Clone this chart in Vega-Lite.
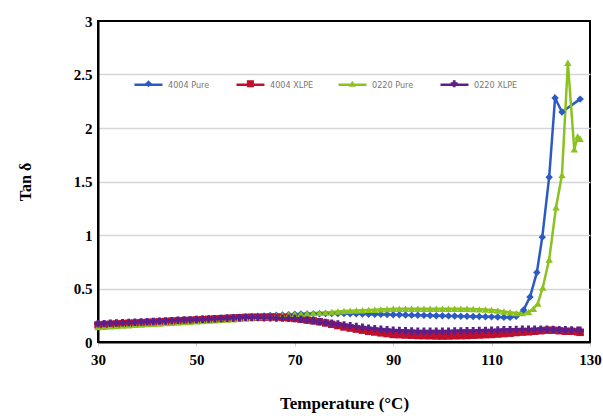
{
  "$schema": "https://vega.github.io/schema/vega-lite/v6.json",
  "width": 492,
  "height": 321,
  "autosize": "none",
  "padding": {"left": 98, "top": 21, "right": 13, "bottom": 74},
  "background": "white",
  "view": {"stroke": "#000000", "strokeWidth": 2},
  "config": {
    "view": {"stroke": "#000000", "strokeWidth": 2},
    "font": "Liberation Serif"
  },
  "data": {
    "values": [
      {"t": 30, "4004 Pure": 0.170, "4004 XLPE": 0.160, "0220 Pure": 0.140, "0220 XLPE": 0.170},
      {"t": 31.25, "4004 Pure": 0.172, "4004 XLPE": 0.163, "0220 Pure": 0.143, "0220 XLPE": 0.172},
      {"t": 32.5, "4004 Pure": 0.175, "4004 XLPE": 0.166, "0220 Pure": 0.147, "0220 XLPE": 0.175},
      {"t": 33.75, "4004 Pure": 0.177, "4004 XLPE": 0.169, "0220 Pure": 0.150, "0220 XLPE": 0.177},
      {"t": 35, "4004 Pure": 0.180, "4004 XLPE": 0.172, "0220 Pure": 0.153, "0220 XLPE": 0.180},
      {"t": 36.25, "4004 Pure": 0.182, "4004 XLPE": 0.175, "0220 Pure": 0.157, "0220 XLPE": 0.182},
      {"t": 37.5, "4004 Pure": 0.185, "4004 XLPE": 0.177, "0220 Pure": 0.160, "0220 XLPE": 0.185},
      {"t": 38.75, "4004 Pure": 0.187, "4004 XLPE": 0.180, "0220 Pure": 0.163, "0220 XLPE": 0.187},
      {"t": 40, "4004 Pure": 0.190, "4004 XLPE": 0.183, "0220 Pure": 0.167, "0220 XLPE": 0.190},
      {"t": 41.25, "4004 Pure": 0.192, "4004 XLPE": 0.186, "0220 Pure": 0.170, "0220 XLPE": 0.192},
      {"t": 42.5, "4004 Pure": 0.195, "4004 XLPE": 0.189, "0220 Pure": 0.173, "0220 XLPE": 0.195},
      {"t": 43.75, "4004 Pure": 0.197, "4004 XLPE": 0.192, "0220 Pure": 0.177, "0220 XLPE": 0.197},
      {"t": 45, "4004 Pure": 0.200, "4004 XLPE": 0.195, "0220 Pure": 0.180, "0220 XLPE": 0.200},
      {"t": 46.25, "4004 Pure": 0.203, "4004 XLPE": 0.198, "0220 Pure": 0.183, "0220 XLPE": 0.203},
      {"t": 47.5, "4004 Pure": 0.206, "4004 XLPE": 0.200, "0220 Pure": 0.187, "0220 XLPE": 0.205},
      {"t": 48.75, "4004 Pure": 0.209, "4004 XLPE": 0.203, "0220 Pure": 0.190, "0220 XLPE": 0.207},
      {"t": 50, "4004 Pure": 0.212, "4004 XLPE": 0.206, "0220 Pure": 0.193, "0220 XLPE": 0.210},
      {"t": 51.25, "4004 Pure": 0.215, "4004 XLPE": 0.209, "0220 Pure": 0.197, "0220 XLPE": 0.212},
      {"t": 52.5, "4004 Pure": 0.218, "4004 XLPE": 0.212, "0220 Pure": 0.200, "0220 XLPE": 0.215},
      {"t": 53.75, "4004 Pure": 0.220, "4004 XLPE": 0.215, "0220 Pure": 0.203, "0220 XLPE": 0.217},
      {"t": 55, "4004 Pure": 0.223, "4004 XLPE": 0.218, "0220 Pure": 0.207, "0220 XLPE": 0.220},
      {"t": 56.25, "4004 Pure": 0.226, "4004 XLPE": 0.221, "0220 Pure": 0.210, "0220 XLPE": 0.222},
      {"t": 57.5, "4004 Pure": 0.229, "4004 XLPE": 0.224, "0220 Pure": 0.213, "0220 XLPE": 0.225},
      {"t": 58.75, "4004 Pure": 0.232, "4004 XLPE": 0.227, "0220 Pure": 0.217, "0220 XLPE": 0.227},
      {"t": 60, "4004 Pure": 0.235, "4004 XLPE": 0.230, "0220 Pure": 0.220, "0220 XLPE": 0.230},
      {"t": 61.25, "4004 Pure": 0.238, "4004 XLPE": 0.231, "0220 Pure": 0.225, "0220 XLPE": 0.229},
      {"t": 62.5, "4004 Pure": 0.241, "4004 XLPE": 0.232, "0220 Pure": 0.230, "0220 XLPE": 0.228},
      {"t": 63.75, "4004 Pure": 0.244, "4004 XLPE": 0.233, "0220 Pure": 0.235, "0220 XLPE": 0.227},
      {"t": 65, "4004 Pure": 0.247, "4004 XLPE": 0.234, "0220 Pure": 0.240, "0220 XLPE": 0.226},
      {"t": 66.25, "4004 Pure": 0.250, "4004 XLPE": 0.234, "0220 Pure": 0.245, "0220 XLPE": 0.225},
      {"t": 67.5, "4004 Pure": 0.253, "4004 XLPE": 0.230, "0220 Pure": 0.250, "0220 XLPE": 0.223},
      {"t": 68.75, "4004 Pure": 0.256, "4004 XLPE": 0.226, "0220 Pure": 0.255, "0220 XLPE": 0.222},
      {"t": 70, "4004 Pure": 0.260, "4004 XLPE": 0.220, "0220 Pure": 0.260, "0220 XLPE": 0.220},
      {"t": 71.25, "4004 Pure": 0.261, "4004 XLPE": 0.213, "0220 Pure": 0.263, "0220 XLPE": 0.213},
      {"t": 72.5, "4004 Pure": 0.262, "4004 XLPE": 0.205, "0220 Pure": 0.267, "0220 XLPE": 0.205},
      {"t": 73.75, "4004 Pure": 0.263, "4004 XLPE": 0.198, "0220 Pure": 0.270, "0220 XLPE": 0.198},
      {"t": 75, "4004 Pure": 0.264, "4004 XLPE": 0.190, "0220 Pure": 0.273, "0220 XLPE": 0.190},
      {"t": 76.25, "4004 Pure": 0.265, "4004 XLPE": 0.178, "0220 Pure": 0.277, "0220 XLPE": 0.183},
      {"t": 77.5, "4004 Pure": 0.265, "4004 XLPE": 0.165, "0220 Pure": 0.280, "0220 XLPE": 0.175},
      {"t": 78.75, "4004 Pure": 0.265, "4004 XLPE": 0.153, "0220 Pure": 0.285, "0220 XLPE": 0.168},
      {"t": 80, "4004 Pure": 0.265, "4004 XLPE": 0.140, "0220 Pure": 0.290, "0220 XLPE": 0.160},
      {"t": 81.25, "4004 Pure": 0.264, "4004 XLPE": 0.130, "0220 Pure": 0.292, "0220 XLPE": 0.153},
      {"t": 82.5, "4004 Pure": 0.263, "4004 XLPE": 0.120, "0220 Pure": 0.295, "0220 XLPE": 0.145},
      {"t": 83.75, "4004 Pure": 0.262, "4004 XLPE": 0.110, "0220 Pure": 0.297, "0220 XLPE": 0.138},
      {"t": 85, "4004 Pure": 0.260, "4004 XLPE": 0.100, "0220 Pure": 0.300, "0220 XLPE": 0.130},
      {"t": 86.25, "4004 Pure": 0.259, "4004 XLPE": 0.093, "0220 Pure": 0.302, "0220 XLPE": 0.125},
      {"t": 87.5, "4004 Pure": 0.258, "4004 XLPE": 0.085, "0220 Pure": 0.305, "0220 XLPE": 0.120},
      {"t": 88.75, "4004 Pure": 0.256, "4004 XLPE": 0.078, "0220 Pure": 0.307, "0220 XLPE": 0.115},
      {"t": 90, "4004 Pure": 0.255, "4004 XLPE": 0.070, "0220 Pure": 0.310, "0220 XLPE": 0.110},
      {"t": 91.25, "4004 Pure": 0.254, "4004 XLPE": 0.068, "0220 Pure": 0.310, "0220 XLPE": 0.108},
      {"t": 92.5, "4004 Pure": 0.253, "4004 XLPE": 0.065, "0220 Pure": 0.310, "0220 XLPE": 0.105},
      {"t": 93.75, "4004 Pure": 0.251, "4004 XLPE": 0.063, "0220 Pure": 0.310, "0220 XLPE": 0.103},
      {"t": 95, "4004 Pure": 0.250, "4004 XLPE": 0.060, "0220 Pure": 0.310, "0220 XLPE": 0.100},
      {"t": 96.25, "4004 Pure": 0.249, "4004 XLPE": 0.059, "0220 Pure": 0.310, "0220 XLPE": 0.100},
      {"t": 97.5, "4004 Pure": 0.248, "4004 XLPE": 0.058, "0220 Pure": 0.310, "0220 XLPE": 0.100},
      {"t": 98.75, "4004 Pure": 0.246, "4004 XLPE": 0.056, "0220 Pure": 0.310, "0220 XLPE": 0.100},
      {"t": 100, "4004 Pure": 0.245, "4004 XLPE": 0.055, "0220 Pure": 0.310, "0220 XLPE": 0.100},
      {"t": 101.25, "4004 Pure": 0.244, "4004 XLPE": 0.056, "0220 Pure": 0.310, "0220 XLPE": 0.101},
      {"t": 102.5, "4004 Pure": 0.243, "4004 XLPE": 0.058, "0220 Pure": 0.310, "0220 XLPE": 0.103},
      {"t": 103.75, "4004 Pure": 0.241, "4004 XLPE": 0.059, "0220 Pure": 0.310, "0220 XLPE": 0.104},
      {"t": 105, "4004 Pure": 0.240, "4004 XLPE": 0.060, "0220 Pure": 0.310, "0220 XLPE": 0.105},
      {"t": 106.25, "4004 Pure": 0.239, "4004 XLPE": 0.063, "0220 Pure": 0.308, "0220 XLPE": 0.106},
      {"t": 107.5, "4004 Pure": 0.238, "4004 XLPE": 0.065, "0220 Pure": 0.305, "0220 XLPE": 0.108},
      {"t": 108.75, "4004 Pure": 0.236, "4004 XLPE": 0.068, "0220 Pure": 0.303, "0220 XLPE": 0.109},
      {"t": 110, "4004 Pure": 0.235, "4004 XLPE": 0.070, "0220 Pure": 0.300, "0220 XLPE": 0.110},
      {"t": 111.25, "4004 Pure": 0.233, "4004 XLPE": 0.074, "0220 Pure": 0.295, "0220 XLPE": 0.112},
      {"t": 112.5, "4004 Pure": 0.231, "4004 XLPE": 0.078, "0220 Pure": 0.285, "0220 XLPE": 0.114},
      {"t": 113.75, "4004 Pure": 0.230, "4004 XLPE": 0.082, "0220 Pure": 0.278, "0220 XLPE": 0.116},
      {"t": 115, "4004 Pure": 0.240, "4004 XLPE": 0.088, "0220 Pure": 0.270, "0220 XLPE": 0.118},
      {"t": 116.25, "4004 XLPE": 0.092, "0220 Pure": 0.270, "0220 XLPE": 0.120},
      {"t": 116.5, "4004 Pure": 0.30},
      {"t": 117.5, "4004 XLPE": 0.095, "0220 Pure": 0.280, "0220 XLPE": 0.120},
      {"t": 117.8, "4004 Pure": 0.42},
      {"t": 118.5, "0220 Pure": 0.31},
      {"t": 118.75, "4004 XLPE": 0.100, "0220 XLPE": 0.120},
      {"t": 119.2, "4004 Pure": 0.65},
      {"t": 119.4, "0220 Pure": 0.36},
      {"t": 120, "4004 XLPE": 0.105, "0220 XLPE": 0.120},
      {"t": 120.3, "4004 Pure": 0.98},
      {"t": 120.4, "0220 Pure": 0.51},
      {"t": 121.25, "4004 XLPE": 0.110, "0220 XLPE": 0.120},
      {"t": 121.7, "4004 Pure": 1.54, "0220 Pure": 0.77},
      {"t": 122.5, "4004 XLPE": 0.110, "0220 XLPE": 0.118},
      {"t": 122.9, "4004 Pure": 2.28},
      {"t": 123.1, "0220 Pure": 1.26},
      {"t": 123.75, "4004 XLPE": 0.105, "0220 XLPE": 0.115},
      {"t": 124.3, "4004 Pure": 2.15, "0220 Pure": 1.56},
      {"t": 125, "4004 XLPE": 0.100, "0220 XLPE": 0.115},
      {"t": 125.5, "0220 Pure": 2.61},
      {"t": 126.25, "4004 XLPE": 0.100, "0220 XLPE": 0.112},
      {"t": 126.8, "0220 Pure": 1.80},
      {"t": 127.5, "4004 XLPE": 0.095, "0220 Pure": 1.92, "0220 XLPE": 0.110},
      {"t": 128, "4004 Pure": 2.27, "4004 XLPE": 0.090, "0220 Pure": 1.90, "0220 XLPE": 0.110}
    ]
  },
  "encoding": {
    "x": {
      "field": "t", "type": "quantitative",
      "scale": {"domain": [30, 130], "nice": false, "zero": false},
      "axis": {
        "values": [30, 50, 70, 90, 110, 130], "grid": false, "labelFlush": false,
        "domainColor": "#000", "domainWidth": 2,
        "ticks": true, "tickColor": "#cccccc", "tickSize": 4,
        "labelFont": "Liberation Serif", "labelFontWeight": "bold", "labelFontSize": 15, "labelColor": "#000",
        "labelPadding": 6,
        "title": "Temperature (°C)", "titleFont": "Liberation Serif", "titleFontWeight": "bold",
        "titleFontSize": 17, "titleColor": "#000", "titlePadding": 28
      }
    },
    "y": {
      "field": "tan", "type": "quantitative",
      "scale": {"domain": [0, 3], "nice": false},
      "axis": {
        "values": [0, 0.5, 1, 1.5, 2, 2.5, 3], "format": "~g", "labelFlush": false,
        "grid": true, "gridWidth": 1.5,
        "gridColor": {"condition": {"test": "datum.value >= 3 || datum.value <= 0", "value": "transparent"}, "value": "#d6d6d6"},
        "domainColor": "#000", "domainWidth": 2, "ticks": false,
        "labelFont": "Liberation Serif", "labelFontWeight": "bold", "labelFontSize": 15, "labelColor": "#000",
        "labelPadding": 6,
        "title": "Tan δ", "titleFont": "Liberation Serif", "titleFontWeight": "bold",
        "titleFontSize": 16, "titleColor": "#000", "titlePadding": 40
      }
    }
  },
  "layer": [
    {
      "transform": [
        {"fold": ["4004 Pure", "4004 XLPE", "0220 Pure", "0220 XLPE"], "as": ["series", "tan"]},
        {"filter": "isValid(datum.tan)"}
      ],
      "mark": {"type": "line", "strokeWidth": 2.5},
      "encoding": {
        "color": {
          "field": "series", "type": "nominal",
          "scale": {
            "domain": ["4004 Pure", "4004 XLPE", "0220 Pure", "0220 XLPE"],
            "range": ["#2b5bc2", "#c0102c", "#8cc21f", "#5a1f8a"]
          },
          "legend": {
            "orient": "none", "legendX": 35, "legendY": 48, "direction": "horizontal",
            "title": null, "symbolType": "stroke", "symbolSize": 784, "symbolStrokeWidth": 2.5,
            "labelFont": "DejaVu Sans Condensed, Liberation Sans, sans-serif", "labelFontSize": 9, "labelColor": "#777",
            "labelOffset": 4, "columnPadding": 19, "gridAlign": "all"
          }
        }
      }
    },
    {
      "transform": [
        {"fold": ["4004 Pure", "4004 XLPE", "0220 Pure", "0220 XLPE"], "as": ["ser", "tan"]},
        {"filter": "isValid(datum.tan)"}
      ],
      "mark": {"type": "point", "filled": true, "size": 55, "opacity": 1},
      "encoding": {
        "color": {
          "field": "ser", "type": "nominal",
          "scale": {
            "domain": ["4004 Pure", "4004 XLPE", "0220 Pure", "0220 XLPE"],
            "range": ["#2b5bc2", "#c0102c", "#8cc21f", "#5a1f8a"]
          },
          "legend": {
            "orient": "none", "legendX": 46, "legendY": 58, "direction": "horizontal",
            "title": null, "symbolSize": 50, "symbolStrokeWidth": 1.5,
            "labelExpr": "''", "labelFontSize": 9,
            "labelOffset": 0, "columnPadding": 92.9, "gridAlign": "all"
          }
        },
        "shape": {
          "field": "ser", "type": "nominal",
          "scale": {
            "domain": ["4004 Pure", "4004 XLPE", "0220 Pure", "0220 XLPE"],
            "range": ["diamond", "square", "triangle-up", "cross"]
          }
        }
      }
    }
  ],
  "resolve": {
    "scale": {"color": "independent", "shape": "independent"},
    "legend": {"color": "independent", "shape": "independent"}
  }
}
